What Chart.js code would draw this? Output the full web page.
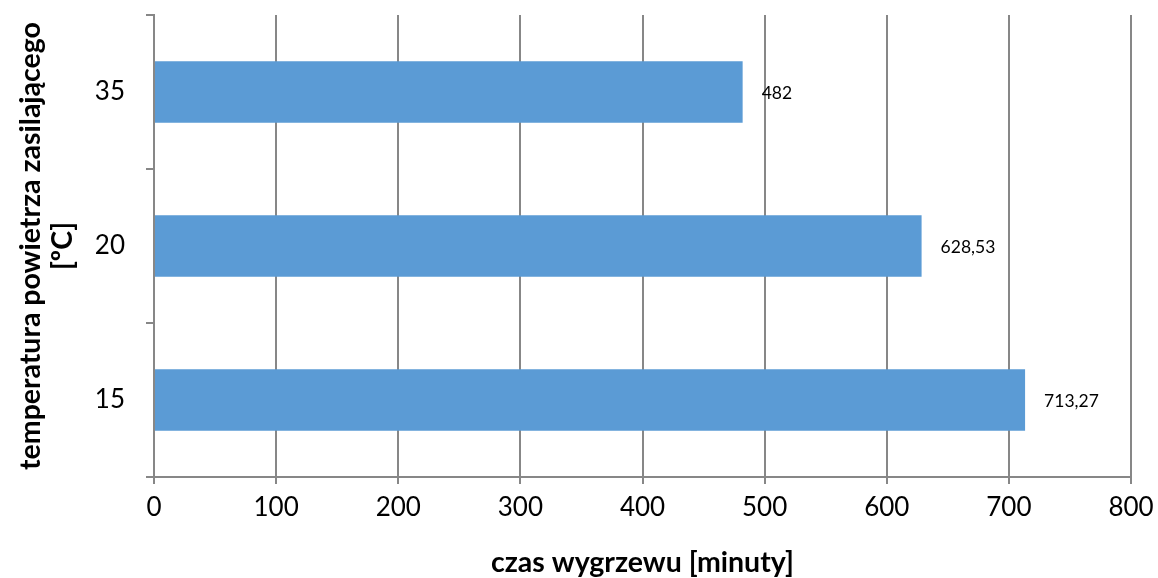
<!DOCTYPE html>
<html>
<head>
<meta charset="utf-8">
<script src="https://cdn.jsdelivr.net/npm/chart.js@4.4.0/dist/chart.umd.min.js"></script>
<style>
  html, body { margin: 0; padding: 0; background: #ffffff; }
  #wrap { width: 1158px; height: 578px; position: relative; }
</style>
</head>
<body>
<div id="wrap"><canvas id="c" width="1158" height="578"></canvas></div>
<script>
// Supply-air temperature categories (top to bottom) and heating time in minutes
const categories = ['35', '20', '15'];
const heatingTime = [482, 628.53, 713.27];
const xTicks = [0, 100, 200, 300, 400, 500, 600, 700, 800];

const xTitle = 'czas wygrzewu [minuty]';
const yTitle = ['temperatura powietrza zasilającego', '[ºC]'];

const FONT = 'Lato, "Open Sans", sans-serif';
const GRID = '#878787';

// Writes each bar's value just past its end, with a decimal comma
const valueLabels = {
  id: 'valueLabels',
  afterDatasetsDraw(chart) {
    const ctx = chart.ctx;
    const meta = chart.getDatasetMeta(0);
    ctx.save();
    ctx.font = '17.5px ' + FONT;
    ctx.fillStyle = '#000000';
    ctx.textAlign = 'left';
    ctx.textBaseline = 'middle';
    meta.data.forEach((bar, i) => {
      const v = chart.data.datasets[0].data[i];
      ctx.fillText(String(v).replace('.', ','), bar.x + 19, bar.y + 1);
    });
    ctx.restore();
  }
};

new Chart(document.getElementById('c'), {
  type: 'bar',
  data: {
    labels: categories,
    datasets: [{
      data: heatingTime,
      backgroundColor: '#5B9BD5',
      borderWidth: 0,
      categoryPercentage: 0.4,
      barPercentage: 1.0
    }]
  },
  options: {
    indexAxis: 'y',
    responsive: false,
    animation: false,
    devicePixelRatio: 1,
    layout: { padding: { top: 15, right: 27, left: 0, bottom: 0 } },
    plugins: {
      legend: { display: false },
      tooltip: { enabled: false }
    },
    scales: {
      x: {
        type: 'linear',
        min: 0,
        max: 800,
        afterBuildTicks(scale) {
          scale.ticks = xTicks.map(v => ({ value: v }));
        },
        afterFit(scale) {
          scale.height = 101;
          scale.paddingLeft = 0;
          scale.paddingRight = 0;
        },
        grid: {
          color: GRID,
          lineWidth: 2,
          drawTicks: true,
          tickLength: 7,
          tickColor: GRID
        },
        border: { display: true, color: GRID, width: 2 },
        ticks: {
          font: { family: FONT, size: 26 },
          color: '#000000',
          padding: 8,
          maxRotation: 0
        },
        title: {
          display: true,
          text: xTitle,
          font: { family: FONT, size: 28.5, weight: 'bold' },
          color: '#000000',
          padding: { top: 0, bottom: -2 }
        }
      },
      y: {
        type: 'category',
        afterFit(scale) {
          scale.width = 154;
          scale.paddingTop = 0;
          scale.paddingBottom = 0;
        },
        grid: {
          offset: true,
          drawOnChartArea: false,
          drawTicks: true,
          tickLength: 8,
          color: GRID,
          lineWidth: 2
        },
        border: { display: true, color: GRID, width: 2 },
        ticks: {
          font: { family: FONT, size: 26 },
          color: '#000000',
          padding: 21
        },
        title: {
          display: true,
          text: yTitle,
          font: { family: FONT, size: 28.5, weight: 'bold', lineHeight: 1.15 },
          color: '#000000',
          padding: { top: 14, bottom: 0 }
        }
      }
    }
  },
  plugins: [valueLabels]
});
</script>
</body>
</html>
